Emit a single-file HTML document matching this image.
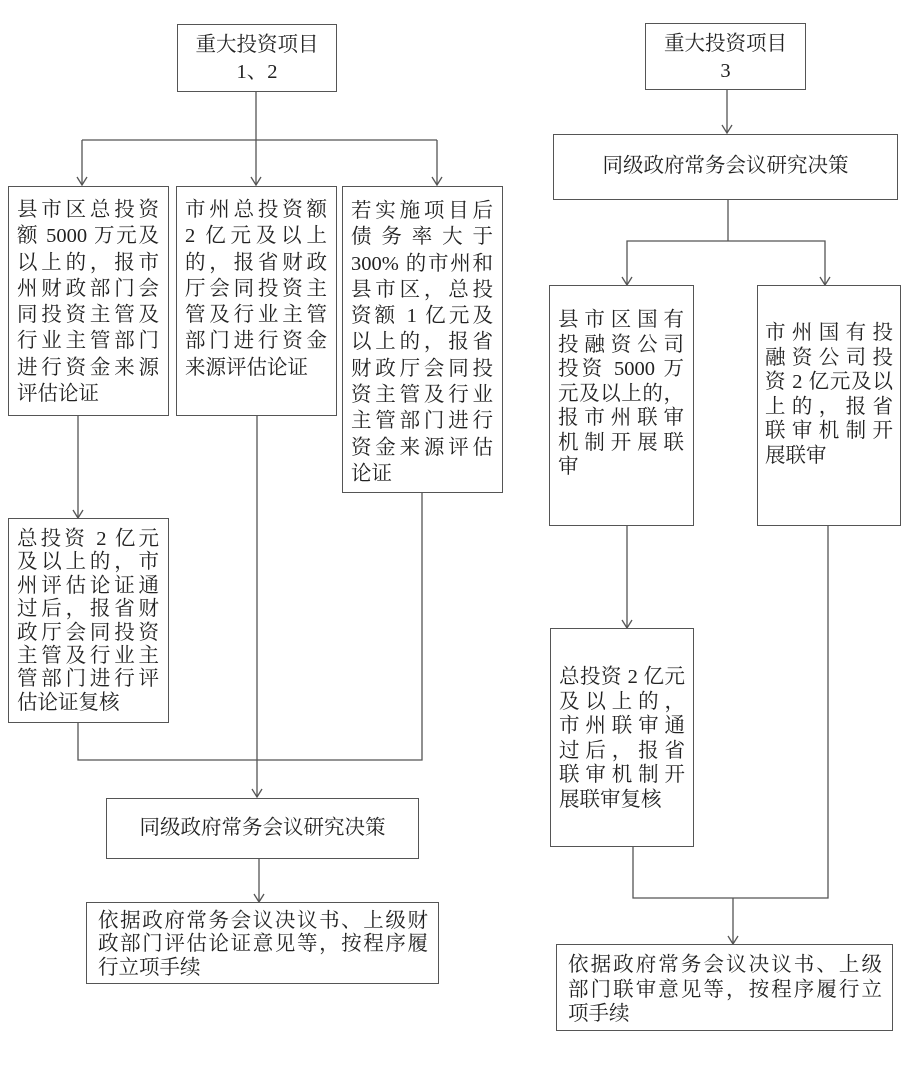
<!DOCTYPE html>
<html><head><meta charset="utf-8"><style>
body{margin:0;width:915px;height:1070px;background:#fff;position:relative;overflow:hidden;font-family:"Liberation Serif","Noto Serif CJK SC",serif;color:#222}
.b{position:absolute;border:1.3px solid #555;box-sizing:border-box;background:#fff}
.t{position:absolute;font-size:20.5px;white-space:nowrap}
.t div{height:26.3px;line-height:26.3px;text-align:justify;text-align-last:justify}
.t.s div{height:23.4px;line-height:23.4px}
.t.r div{height:24.5px;line-height:24.5px}
.t div.l{text-align-last:left}
.c{position:absolute;font-size:20.5px;text-align:center;white-space:nowrap;line-height:27px}
svg{position:absolute;left:0;top:0}
</style></head><body>
<svg width="915" height="1070" viewBox="0 0 915 1070" fill="none" stroke="#555" stroke-width="1.3">
<path d="M256 92V140M82 140H437M82 140V185M256 140V185M437 140V185"/>
<path d="M78 416V518M257 416V797M78 723V760H422V493"/>
<path d="M259 859V902"/>
<path d="M727 90V133M728 200V241H627V285M728 241H825V285"/>
<path d="M627 526V628M633 847V898H828V526M733 898V944"/>
<g stroke-width="1.3">
<path d="M77 177L82 185L87 177M251 177L256 185L261 177M432 177L437 185L442 177"/>
<path d="M73 510L78 518L83 510M252 789L257 797L262 789M254 894L259 902L264 894"/>
<path d="M722 125L727 133L732 125M622 277L627 285L632 277M820 277L825 285L830 277"/>
<path d="M622 620L627 628L632 620M728 936L733 944L738 936"/>
</g>
</svg>

<div class="b" style="left:177px;top:24px;width:160px;height:68px"></div>
<div class="c" style="left:177px;top:32px;width:160px">重大投资项目<br>1、2</div>

<div class="b" style="left:645px;top:23px;width:161px;height:67px"></div>
<div class="c" style="left:645px;top:31px;width:161px">重大投资项目<br>3</div>

<div class="b" style="left:8px;top:186px;width:161px;height:230px"></div>
<div class="t" style="left:17px;top:197px;width:142px">
<div>县市区总投资</div><div>额 5000 万元及</div><div>以上的，报市</div><div>州财政部门会</div><div>同投资主管及</div><div>行业主管部门</div><div>进行资金来源</div><div class="l">评估论证</div></div>

<div class="b" style="left:176px;top:186px;width:161px;height:230px"></div>
<div class="t" style="left:185px;top:197px;width:142px">
<div>市州总投资额</div><div>2 亿元及以上</div><div>的，报省财政</div><div>厅会同投资主</div><div>管及行业主管</div><div>部门进行资金</div><div class="l">来源评估论证</div></div>

<div class="b" style="left:342px;top:186px;width:161px;height:307px"></div>
<div class="t" style="left:351px;top:198px;width:142px">
<div>若实施项目后</div><div>债 务 率 大 于</div><div>300% 的市州和</div><div>县市区，总投</div><div>资额 1 亿元及</div><div>以上的，报省</div><div>财政厅会同投</div><div>资主管及行业</div><div>主管部门进行</div><div>资金来源评估</div><div class="l">论证</div></div>

<div class="b" style="left:8px;top:518px;width:161px;height:205px"></div>
<div class="t s" style="left:17px;top:528px;width:142px">
<div>总投资 2 亿元</div><div>及以上的，市</div><div>州评估论证通</div><div>过后，报省财</div><div>政厅会同投资</div><div>主管及行业主</div><div>管部门进行评</div><div class="l">估论证复核</div></div>

<div class="b" style="left:106px;top:798px;width:313px;height:61px"></div>
<div class="c" style="left:106px;top:815px;width:313px">同级政府常务会议研究决策</div>

<div class="b" style="left:86px;top:902px;width:353px;height:82px"></div>
<div class="t s" style="left:98px;top:910px;width:330px">
<div>依据政府常务会议决议书、上级财</div><div>政部门评估论证意见等，按程序履</div><div class="l">行立项手续</div></div>

<div class="b" style="left:553px;top:134px;width:345px;height:66px"></div>
<div class="c" style="left:553px;top:153px;width:345px">同级政府常务会议研究决策</div>

<div class="b" style="left:549px;top:285px;width:145px;height:241px"></div>
<div class="t r" style="left:558px;top:308px;width:126px">
<div>县市区国有</div><div>投融资公司</div><div>投资 5000 万</div><div>元及以上的，</div><div>报市州联审</div><div>机制开展联</div><div class="l">审</div></div>

<div class="b" style="left:757px;top:285px;width:144px;height:241px"></div>
<div class="t r" style="left:765px;top:321px;width:128px">
<div>市州国有投</div><div>融资公司投</div><div>资 2 亿元及以</div><div>上的，报省</div><div>联审机制开</div><div class="l">展联审</div></div>

<div class="b" style="left:550px;top:628px;width:144px;height:219px"></div>
<div class="t r" style="left:559px;top:665px;width:126px">
<div>总投资 2 亿元</div><div>及以上的，</div><div>市州联审通</div><div>过后，报省</div><div>联审机制开</div><div class="l">展联审复核</div></div>

<div class="b" style="left:556px;top:944px;width:337px;height:87px"></div>
<div class="t r" style="left:568px;top:953px;width:314px">
<div>依据政府常务会议决议书、上级</div><div>部门联审意见等，按程序履行立</div><div class="l">项手续</div></div>
</body></html>
